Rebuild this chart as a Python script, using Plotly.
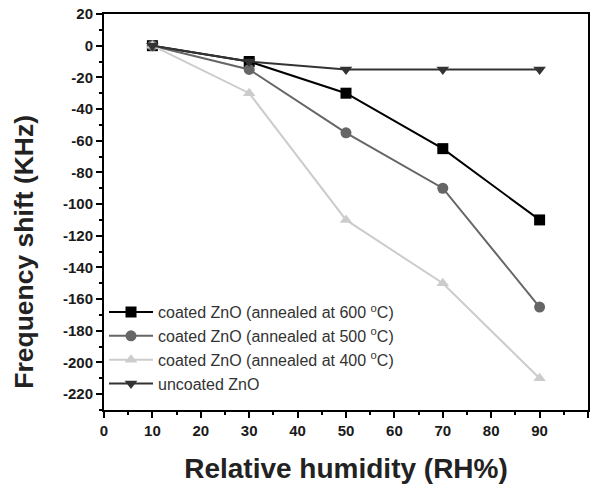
import plotly.graph_objects as go

rh = [10, 30, 50, 70, 90]
coated_600 = [0, -10, -30, -65, -110]
coated_500 = [0, -15, -55, -90, -165]
coated_400 = [0, -30, -110, -150, -210]
uncoated = [0, -10, -15, -15, -15]

x_ticks = [0, 10, 20, 30, 40, 50, 60, 70, 80, 90, 100]
x_labels = ["0", "10", "20", "30", "40", "50", "60", "70", "80", "90", "100"]
y_ticks = [20, 0, -20, -40, -60, -80, -100, -120, -140, -160, -180, -200, -220]
y_labels = ["20", "0", "-20", "-40", "-60", "-80", "-100", "-120", "-140", "-160", "-180", "-200", "-220"]

names = ["coated ZnO (annealed at 600 <sup>o</sup>C)",
         "coated ZnO (annealed at 500 <sup>o</sup>C)",
         "coated ZnO (annealed at 400 <sup>o</sup>C)",
         "uncoated ZnO"]
series = [coated_600, coated_500, coated_400, uncoated]
colors = ["#000000", "#666666", "#cccccc", "#333333"]
symbols = ["square", "circle", "triangle-up", "triangle-down"]

FONT = "Liberation Sans"

fig = go.Figure()
for n, y, c, s in zip(names, series, colors, symbols):
    fig.add_trace(go.Scatter(x=rh, y=y, name=n, mode="lines+markers",
                             line=dict(color=c, width=2),
                             marker=dict(symbol=s, size=11, color=c)))

tf = dict(family=FONT, size=15, color="#1a1a1a", weight="bold")
axis_common = dict(showline=True, linecolor="black", linewidth=2, mirror=True,
                   ticks="outside", tickwidth=2, ticklen=6, tickcolor="black",
                   showgrid=False, zeroline=False, tickfont=tf, automargin=False)

fig.update_xaxes(range=[0, 100], tickvals=x_ticks,
                 ticktext=[f"<b>{t}</b>" for t in x_labels],
                 minor=dict(ticks="outside", dtick=5, ticklen=3, tickwidth=2, tickcolor="black"),
                 title=dict(text="Relative humidity (RH%)",
                            font=dict(family=FONT, size=28, color="#222", weight="bold"),
                            standoff=24),
                 **axis_common)
fig.update_yaxes(range=[-230, 20], tickvals=y_ticks,
                 ticktext=[f"<b>{t}</b>" for t in y_labels],
                 minor=dict(ticks="outside", dtick=10, ticklen=3, tickwidth=2, tickcolor="black"),
                 **axis_common)

fig.add_annotation(text="<b>Frequency shift (KHz)</b>", xref="paper", yref="paper",
                   x=-0.167, y=0.40, xanchor="center", yanchor="middle",
                   textangle=-90, showarrow=False,
                   font=dict(family=FONT, size=26.5, color="#222"))

fig.update_layout(width=596, height=484,
                  margin=dict(l=104, r=8, t=14, b=74, autoexpand=False),
                  paper_bgcolor="white", plot_bgcolor="white",
                  showlegend=True,
                  legend=dict(x=0.0, y=0.29, xanchor="left", yanchor="top",
                              bgcolor="rgba(0,0,0,0)", tracegroupgap=0,
                              font=dict(family=FONT, size=16, color="#333"),
                              itemwidth=44))

fig.write_html("out.html")
